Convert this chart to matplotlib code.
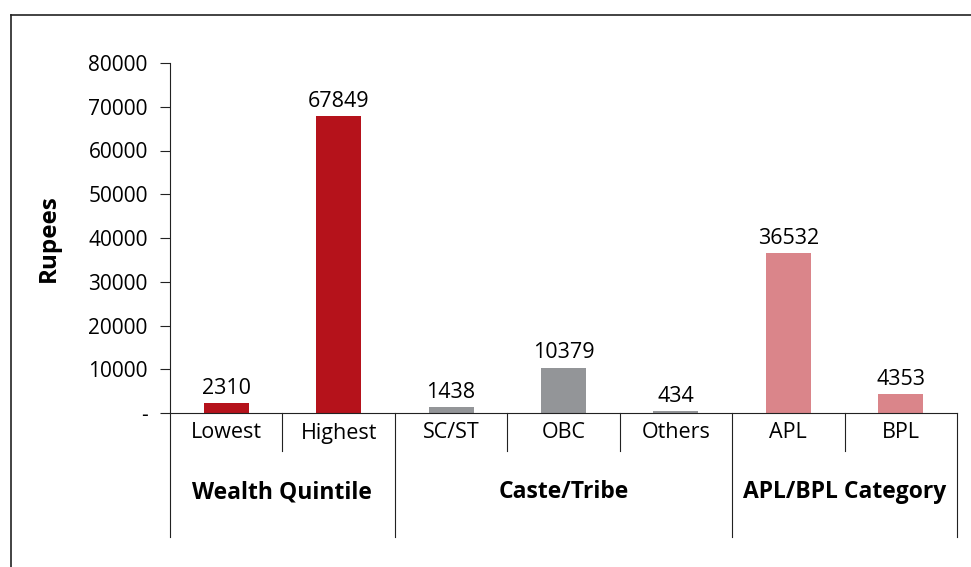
import matplotlib
matplotlib.use("Agg")
import matplotlib.pyplot as plt
from matplotlib.lines import Line2D
from matplotlib.ticker import FuncFormatter

plt.rcParams["font.family"] = ["Open Sans", "DejaVu Sans"]

# spending in rupees by group
categories = ["Lowest", "Highest", "SC/ST", "OBC", "Others", "APL", "BPL"]
values = [2310, 67849, 1438, 10379, 434, 36532, 4353]
groups = ["Wealth Quintile", "Caste/Tribe", "APL/BPL Category"]
group_sizes = [2, 3, 2]

red = "#B5121B"
grey = "#939598"
pink = "#DA858A"
colors = [red, red, grey, grey, grey, pink, pink]
line_color = "#222222"

W, H = 971, 567
fig = plt.figure(figsize=(W / 100, H / 100), dpi=100)
ax = fig.add_axes([170 / W, 1 - 413 / H, (957 - 170) / W, (413 - 63) / H])

x = range(len(categories))
ax.bar(x, values, width=0.4, color=colors, zorder=2)
for xi, v in zip(x, values):
    ax.annotate(str(v), (xi, v), xytext=(0, 3), textcoords="offset points",
                ha="center", va="bottom", fontsize=15.5)

ax.set_xlim(-0.5, len(categories) - 0.5)
ax.set_ylim(0, 80000)
ax.set_yticks(range(0, 80001, 10000))
ax.yaxis.set_major_formatter(FuncFormatter(lambda v, p: "-" if v == 0 else f"{int(v)}"))
ax.tick_params(axis="y", direction="out", length=7, width=0.8, color=line_color,
               labelsize=15, pad=9)
ax.set_xticks([])
for s in ["top", "right"]:
    ax.spines[s].set_visible(False)
for s in ["left", "bottom"]:
    ax.spines[s].set_color(line_color)
    ax.spines[s].set_linewidth(0.8)
ax.set_ylabel("Rupees", fontsize=17.5, fontweight="bold", labelpad=20)

# category labels and divider lines below the axis
trans = ax.get_xaxis_transform()
px = 1 / (413 - 63)  # one pixel in axes-fraction units
for xi, name in zip(x, categories):
    ax.text(xi, -20 * px, name, transform=trans, ha="center", va="center", fontsize=15.5)

group_edges = [-0.5]
for n in group_sizes:
    group_edges.append(group_edges[-1] + n)
for k in range(len(categories) + 1):
    xe = k - 0.5
    depth = 124 if xe in group_edges else 38
    ax.add_line(Line2D([xe, xe], [0, -depth * px], transform=trans, color=line_color,
                       lw=0.8, clip_on=False))
for g, a, b in zip(groups, group_edges[:-1], group_edges[1:]):
    ax.text((a + b) / 2, -79 * px, g, transform=trans, ha="center", va="center",
            fontsize=16.5, fontweight="bold")

# outer frame: top and left edges
fig.add_artist(Line2D([11 / W, 1], [1 - 15 / H, 1 - 15 / H], transform=fig.transFigure,
                      color=line_color, lw=1.2))
fig.add_artist(Line2D([11 / W, 11 / W], [0, 1 - 15 / H], transform=fig.transFigure,
                      color=line_color, lw=1.2))

fig.savefig("out.png", dpi=100)
